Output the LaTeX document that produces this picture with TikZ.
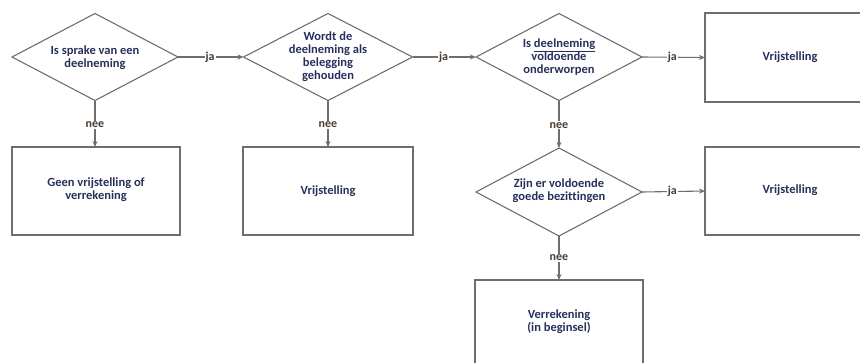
\documentclass[tikz,border=0pt]{standalone}
\usepackage{fontspec}
\setmainfont{Carlito}[Ligatures=NoCommon]
\usetikzlibrary{shapes.geometric,arrows.meta}
\definecolor{linec}{HTML}{6E6E6E}
\definecolor{txtc}{HTML}{26305A}
\definecolor{lblc}{HTML}{4A3B30}
\tikzset{
  dia/.style={draw=linec,line width=1.1pt,diamond,minimum width=166pt,minimum height=87pt,inner sep=0pt,outer sep=0pt},
  boxn/.style={draw=linec,line width=1.1pt,rectangle,minimum width=168pt,minimum height=88pt,inner sep=0pt,outer sep=0pt},
  txt/.style={text=txtc,font=\fontsize{12.5}{13}\selectfont\bfseries,align=center,inner sep=0pt},
  conn/.style={draw=linec,line width=1.1pt,-{Stealth[length=6pt,width=5pt]}},
  lbl/.style={fill=white,text=lblc,font=\fontsize{12}{13}\selectfont\bfseries,inner sep=1pt}
}
\begin{document}
\begin{tikzpicture}[x=1pt,y=-1pt]
\useasboundingbox (0,0) rectangle (860,362);
\clip (0,0) rectangle (860,362);
% diamonds
\node[dia] (d1) at (95,57) {};
\node[txt] (t1) at (95,58) {Is sprake van een\\deelneming};
\node[dia,minimum width=169pt] (d2) at (328,57) {};
\node[txt] (t2) at (328,57) {Wordt de\\deelneming als\\belegging\\gehouden};
\node[dia] (d3) at (559,57) {};
\node[txt] (t3) at (559,57) {Is \underline{deelneming}\\voldoende\\onderworpen};
\node[dia,minimum height=88pt] (d4) at (559,192) {};
\node[txt] (t4) at (559,191) {Zijn er voldoende\\goede bezittingen};
% boxes
\node[boxn,minimum width=170pt,minimum height=89pt] (r1) at (790,57.5) {};
\node[txt] (tr1) at (790,57) {Vrijstelling};
\node[boxn,minimum width=170pt] (r2) at (790,191) {};
\node[txt] (tr2) at (790,190) {Vrijstelling};
\node[boxn] (b1) at (96,191) {};
\node[txt] (tb1) at (96,190) {Geen vrijstelling of\\verrekening};
\node[boxn,minimum width=170pt] (b2) at (328,191) {};
\node[txt] (tb2) at (328,191) {Vrijstelling};
\node[boxn] (b3) at (559,324) {};
\node[txt] (tb3) at (559,322) {Verrekening\\(in beginsel)};
% connectors
\draw[conn] (d1.east) -- node[lbl,pos=0.49] {ja} (d2.west);
\draw[conn] (d2.east) -- node[lbl,pos=0.49] {ja} (d3.west);
\draw[conn] (d3.east) -- node[lbl,pos=0.48] {ja} (r1.west);
\draw[conn] (d4.east) -- node[lbl,pos=0.48] {ja} (r2.west);
\draw[conn] (d1.south) -- node[lbl,pos=0.52] {nee} (b1.north -| d1.south);
\draw[conn] (d2.south) -- node[lbl,pos=0.52] {nee} (b2.north);
\draw[conn] (d3.south) -- node[lbl,pos=0.52] {nee} (d4.north);
\draw[conn] (d4.south) -- node[lbl,pos=0.5] {nee} (b3.north);
\end{tikzpicture}
\end{document}
